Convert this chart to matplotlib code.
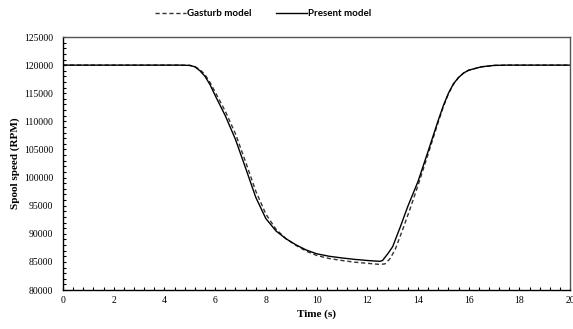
import matplotlib
matplotlib.use("Agg")
import matplotlib.pyplot as plt
from matplotlib.ticker import MultipleLocator

# Data
t_present = [0, 4.6, 5.0, 5.2, 5.4, 5.6, 5.8, 6.0, 6.4, 6.8, 7.2, 7.6, 8.0, 8.4, 8.8,
             9.2, 9.6, 10.0, 10.5, 11.0, 11.5, 12.0, 12.5, 12.6, 12.8, 13.0, 13.3,
             13.6, 14.0, 14.4, 14.8, 15.0, 15.2, 15.4, 15.6, 15.8, 16.0, 16.5, 17.0,
             17.5, 18.0, 20.0]
present = [120000, 120000, 119950, 119700, 119000, 118000, 116500, 114600, 111000,
           106800, 101700, 96500, 92700, 90500, 89100, 88000, 87100, 86450, 86000,
           85700, 85450, 85250, 85100, 85250, 86400, 87700, 91200, 94900, 99300,
           104700, 110200, 112800, 115000, 116700, 117800, 118600, 119100, 119700,
           119950, 120000, 120000, 120000]

t_gasturb = [0, 4.6, 5.0, 5.2, 5.4, 5.6, 5.8, 6.0, 6.4, 6.8, 7.2, 7.6, 8.0, 8.4, 8.8,
             9.2, 9.6, 10.0, 10.5, 11.0, 11.5, 12.0, 12.5, 12.7, 12.9, 13.1, 13.4,
             13.7, 14.0, 14.4, 14.8, 15.0, 15.2, 15.4, 15.6, 15.8, 16.0, 16.5, 17.0,
             17.5, 18.0, 20.0]
gasturb = [120000, 120000, 119950, 119750, 119200, 118300, 116900, 115200, 111800,
           107800, 102800, 97600, 93500, 90800, 89100, 87900, 86900, 86150, 85600,
           85250, 84950, 84750, 84550, 84650, 85600, 87200, 90800, 94600, 98600,
           104200, 109900, 112600, 114900, 116600, 117800, 118600, 119100, 119700,
           119950, 120000, 120000, 120000]

x_label = "Time (s)"
y_label = "Spool speed (RPM)"
labels = ["Gasturb model", "Present model"]

fig = plt.figure(figsize=(5.73, 3.29), dpi=100)
ax = fig.add_axes([0.110, 0.1185, 0.885, 0.769])

ax.plot(t_gasturb, gasturb, color="#333333", linestyle=(0, (3, 2)), linewidth=1.0,
        label=labels[0])
ax.plot(t_present, present, color="black", linestyle="-", linewidth=1.0,
        label=labels[1])

ax.set_xlim(0, 20)
ax.set_ylim(80000, 125000)
ax.xaxis.set_major_locator(MultipleLocator(2))
ax.xaxis.set_minor_locator(MultipleLocator(0.4))
ax.yaxis.set_major_locator(MultipleLocator(5000))
ax.yaxis.set_minor_locator(MultipleLocator(1000))

serif = "Liberation Serif"
ax.tick_params(axis="both", which="both", direction="in", length=2.5, width=0.8,
               labelsize=7)
ax.tick_params(axis="y", which="both", pad=7)
ax.tick_params(axis="x", which="both", pad=4.5)
for lab in ax.get_xticklabels() + ax.get_yticklabels():
    lab.set_fontfamily(serif)

ax.set_xlabel(x_label, fontfamily=serif, fontweight="bold", fontsize=8, labelpad=3)
ax.set_ylabel(y_label, fontfamily=serif, fontweight="bold", fontsize=8, labelpad=3)

for side in ["left", "bottom"]:
    ax.spines[side].set_color("black")
    ax.spines[side].set_linewidth(1.0)
for side in ["top", "right"]:
    ax.spines[side].set_color("#555555")
    ax.spines[side].set_linewidth(1.0)

fig.legend(loc="center", bbox_to_anchor=(263 / 573, 1 - 14 / 329), ncol=2,
           frameon=False, handlelength=3.2, handletextpad=0.1, columnspacing=2.5,
           prop={"family": "Lato", "weight": "bold", "size": 7})

fig.savefig("out.png", dpi=100)
